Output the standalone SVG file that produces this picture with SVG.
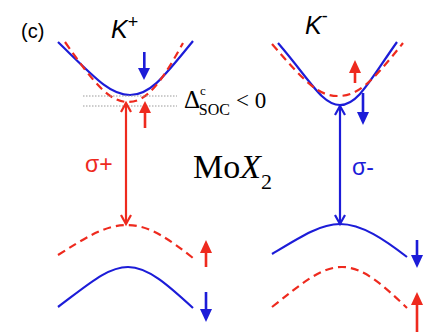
<svg xmlns="http://www.w3.org/2000/svg" width="427" height="332" viewBox="0 0 427 332">
<defs>
<style>
.r{stroke:#ee2a1e;fill:none;stroke-width:2.2}
.b{stroke:#1c1cd8;fill:none;stroke-width:2.2}
.d{stroke-dasharray:8 5}
.g{stroke:#9a9a9a;stroke-width:1;stroke-dasharray:1.5 1.5;fill:none}
.rf{fill:#ee2a1e}
.bf{fill:#1c1cd8}
.sans{font-family:"Liberation Sans",Arial,sans-serif}
.serif{font-family:"Liberation Serif","Times New Roman",serif}
</style>
</defs>
<rect width="427" height="332" fill="#fff"/>

<g id="labels">
<text class="sans" x="21" y="38" font-size="20">(c)</text>
<text class="sans" x="111" y="38" font-size="25" font-style="italic">K<tspan font-size="18" dy="-10" font-style="normal">+</tspan></text>
<text class="sans" x="305" y="34" font-size="25" font-style="italic">K<tspan font-size="18" dy="-12" font-style="normal">-</tspan></text>
<text class="serif" x="193" y="178" font-size="34">Mo<tspan font-style="italic">X</tspan><tspan font-size="22" dy="11">2</tspan></text>
</g>

<g id="kplus">
<path class="b" d="M58 42 C 95 78, 110 95, 130 95 C 150 95, 163 78, 193 41"/>
<path class="r d" d="M65 42 C 95 85, 110 102, 128 102 C 146 102, 160 85, 183 43"/>
<path class="r d" d="M58 255 C 85 238, 105 225, 127 225 C 150 225, 170 240, 193 258"/>
<path class="b" d="M58 307 C 90 283, 108 267, 128 267 C 148 267, 168 285, 193 308"/>
<line class="g" x1="83" y1="96" x2="177" y2="96"/>
<line class="g" x1="83" y1="106" x2="177" y2="106"/>
<text class="serif" x="184" y="108" font-size="25">Δ<tspan font-size="13" dy="-13">c</tspan><tspan font-size="16" dx="-7" dy="20">SOC</tspan><tspan dx="6" dy="-7" font-size="23">&lt; 0</tspan></text>
</g>

<g id="kminus">
<path class="b" d="M278 43 C 310 80, 322 105, 340 105 C 358 105, 370 80, 397 42"/>
<path class="r d" d="M272 44 C 305 82, 318 96, 338 96 C 358 96, 372 82, 403 43"/>
<path class="b" d="M272 254 C 300 237, 320 224, 340 224 C 362 224, 385 240, 407 257"/>
<path class="r d" d="M272 307 C 300 285, 320 267, 342 267 C 364 267, 385 287, 407 308"/>
</g>

<g id="transitions">
<g id="sigma-plus">
<line class="r" x1="126" y1="103" x2="126" y2="224"/>
<polyline class="r" points="121,112 126,103 131,112" stroke-width="2"/>
<polyline class="r" points="121,215 126,224 131,215" stroke-width="2"/>
<text class="sans" x="85" y="172" font-size="23" fill="#ee2a1e">σ+</text>
</g>
<g id="sigma-minus">
<line class="b" x1="340" y1="106" x2="340" y2="224"/>
<polyline class="b" points="335,115 340,106 345,115" stroke-width="2"/>
<polyline class="b" points="335,215 340,224 345,215" stroke-width="2"/>
<text class="sans" x="352" y="175" font-size="23" fill="#1c1cd8">σ-</text>
</g>
</g>

<g id="spins">
<g class="bf"><rect x="143" y="52" width="2.6" height="18"/><path d="M138,68 L150,68 L144,80 Z"/></g>
<g class="rf"><rect x="143.7" y="110" width="2.6" height="18"/><path d="M139,113 L151,113 L145,101 Z"/></g>
<g class="rf"><rect x="204.7" y="250" width="2.6" height="17"/><path d="M200,253 L212,253 L206,240 Z"/></g>
<g class="bf"><rect x="204.7" y="292" width="2.6" height="18"/><path d="M200,309 L212,309 L206,322 Z"/></g>
<g class="rf"><rect x="353.7" y="70" width="2.6" height="13"/><path d="M349,73 L361,73 L355,60 Z"/></g>
<g class="bf"><rect x="361.7" y="93" width="2.6" height="20"/><path d="M357,112 L369,112 L363,125 Z"/></g>
<g class="bf"><rect x="415.7" y="240" width="2.6" height="16"/><path d="M411,255 L423,255 L417,268 Z"/></g>
<g class="rf"><rect x="415.7" y="302" width="2.6" height="30"/><path d="M411,305 L423,305 L417,292 Z"/></g>
</g>
</svg>
